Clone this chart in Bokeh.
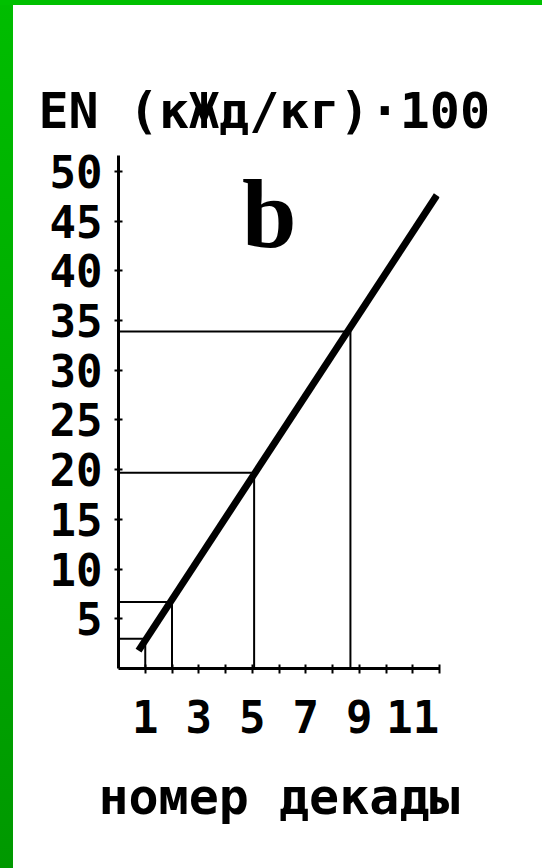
from bokeh.plotting import figure
from bokeh.models import FixedTicker, Range1d, ColumnDataSource
from bokeh.core.properties import value
from bokeh.embed import file_html
from bokeh.resources import INLINE

# ---- data ----
decade_ticks = [1, 2, 3, 4, 5, 6, 7, 8, 9, 10, 11, 12]
decade_labels = ["1", "", "3", "", "5", "", "7", "", "9", "", "11", ""]
en_ticks = [5, 10, 15, 20, 25, 30, 35, 40, 45, 50]
en_labels = ["5", "10", "15", "20", "25", "30", "35", "40", "45", "50"]

line_decade = [0.75, 11.9]
line_en = [1.8, 47.6]

ref_decade = [1.0, 2.0, 5.07, 8.67]
ref_en = [3.0, 6.7, 19.7, 33.9]

title_text = "EN (кЖд/кг)·100"
xlabel_text = "номер декады"
panel_letter = "b"
letter_pos = (4.62, 45.7)

MONO = "DejaVu Sans Mono"

p = figure(width=542, height=868, output_backend="svg", toolbar_location=None,
           x_range=Range1d(0, 12), y_range=Range1d(0, 51.6),
           min_border_left=118, min_border_right=103,
           min_border_top=155, min_border_bottom=200)

p.styles = {
    "position": "absolute", "left": "0px", "top": "0px",
    "background": "linear-gradient(to bottom, #00c000 0px, #00c000 5px, transparent 5px), "
                  "linear-gradient(to right, transparent 13px, #ffffff 13px), "
                  "linear-gradient(to bottom, #00bd00, #009900)",
}
p.border_fill_alpha = 0
p.background_fill_color = "white"
p.outline_line_color = None
p.grid.visible = False

# guide lines
src = ColumnDataSource(dict(x=ref_decade, y=ref_en, z=[0] * len(ref_en)))
p.segment(x0="z", y0="y", x1="x", y1="y", source=src, line_color="black", line_width=2)
p.segment(x0="x", y0="z", x1="x", y1="y", source=src, line_color="black", line_width=2)

# main line
p.line(line_decade, line_en, line_color="black", line_width=7)

# panel letter
p.text(x=[letter_pos[0]], y=[letter_pos[1]], text=[panel_letter],
       text_font=value("Liberation Serif"), text_font_style="bold",
       text_font_size="98px", text_baseline="alphabetic", text_align="left",
       text_color="black")

# axes
xa = p.xaxis[0]
xa.ticker = FixedTicker(ticks=decade_ticks)
xa.major_label_overrides = {t: l for t, l in zip(decade_ticks, decade_labels)}
xa.minor_tick_line_color = None
xa.axis_line_width = 3
xa.major_tick_line_width = 2
xa.major_tick_in = 4
xa.major_tick_out = 5
xa.major_label_standoff = 26
xa.major_label_text_font = MONO
xa.major_label_text_font_style = "bold"
xa.major_label_text_font_size = "44px"
xa.major_label_text_color = "black"
xa.axis_label = xlabel_text
xa.axis_label_text_font = MONO
xa.axis_label_text_font_style = "bold"
xa.axis_label_text_font_size = "50px"
xa.axis_label_text_color = "black"
xa.axis_label_standoff = 32

ya = p.yaxis[0]
ya.ticker = FixedTicker(ticks=en_ticks)
ya.major_label_overrides = {t: l for t, l in zip(en_ticks, en_labels)}
ya.minor_tick_line_color = None
ya.axis_line_width = 3
ya.major_tick_line_width = 2
ya.major_tick_in = 4
ya.major_tick_out = 4
ya.major_label_standoff = 12
ya.major_label_text_font = MONO
ya.major_label_text_font_style = "bold"
ya.major_label_text_font_size = "44px"
ya.major_label_text_color = "black"
ya.major_label_orientation = "horizontal"

p.title.text = title_text
p.title.text_font = MONO
p.title.text_font_style = "bold"
p.title.text_font_size = "50px"
p.title.text_color = "black"
p.title.align = "left"
p.title.offset = -80
p.title.standoff = 32

open("out.html", "w").write(file_html(p, INLINE))
